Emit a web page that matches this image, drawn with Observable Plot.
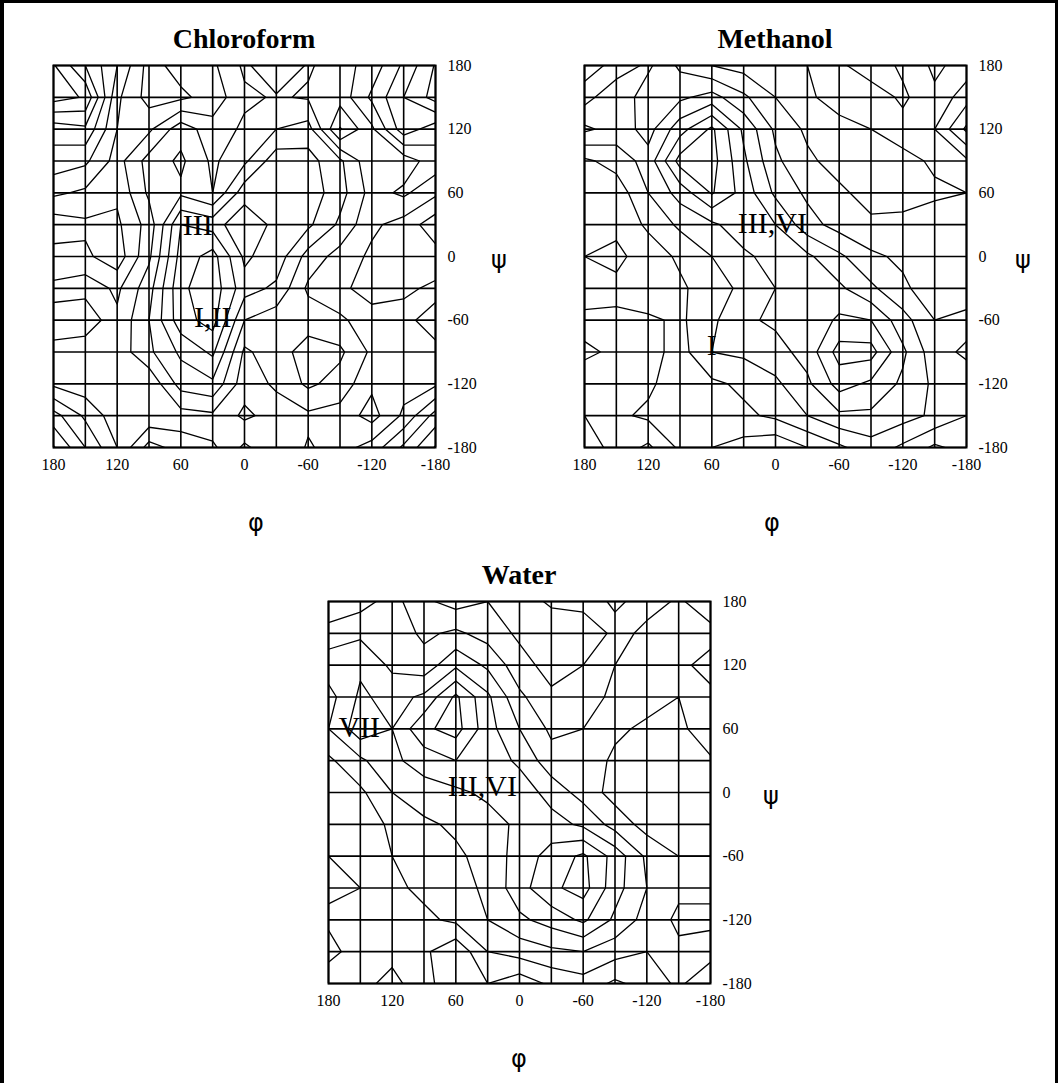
<!DOCTYPE html>
<html><head><meta charset="utf-8">
<script src="https://cdn.jsdelivr.net/npm/d3@7"></script>
<script src="https://cdn.jsdelivr.net/npm/@observablehq/plot@0.6"></script>
<style>
body{margin:0;background:#fff;}
#page{position:relative;width:1058px;height:1083px;overflow:hidden;background:#fff;font-family:"Liberation Serif","Times New Roman",serif;}
.panel{position:absolute;}
.title{position:absolute;font-weight:bold;font-size:28px;transform:translateX(-50%);white-space:nowrap;line-height:1;}
.axl{position:absolute;font-family:"DejaVu Sans",sans-serif;font-size:24px;transform:translate(-50%,-50%);line-height:1;}
.bord{position:absolute;background:#000;}
</style></head>
<body><div id="page"></div>
<script>
// ---- data ----
const phiTicks = [180, 120, 60, 0, -60, -120, -180];
const psiTicks = [180, 120, 60, 0, -60, -120, -180];
const gridAngles = [-180, -150, -120, -90, -60, -30, 0, 30, 60, 90, 120, 150, 180];
const chloroformLevels = [0.5, 1, 1.5, 2, 2.5, 3, 3.5];
const methanolLevels = [0.5, 1, 1.5, 2, 2.5, 3];
const waterLevels = [0.5, 1, 1.5, 2, 2.5, 3];

// relative energy grids: rows psi 180 -> -180 (top to bottom), columns phi 180 -> -180 (left to right)
const chloroformEnergy = [
  [0.45,1.5,2.5,3.7,3.3,3.1,2.4,2.9,2.45,2.7,2.3,1.4,0.45],
  [0.3,0.55,2.9,3.7,3.6,3.3,2.6,2.45,2.55,2.8,1.9,1.0,0.3],
  [1.8,1.6,3.0,3.1,2.2,2.8,2.4,2.0,1.8,3.55,2.6,1.2,1.8],
  [2.2,2.4,3.2,2.3,1.9,2.6,2.1,1.2,1.3,1.9,2.9,2.8,2.2],
  [2.9,3.1,3.4,2.4,2.1,2.5,1.2,1.1,1.2,1.8,2.7,2.4,2.9],
  [3.8,3.6,3.6,2.8,1.0,1.2,2.0,1.3,1.4,2.1,2.9,3.2,3.8],
  [3.3,3.4,3.8,2.6,0.8,0.3,1.6,1.2,2.2,2.7,3.1,3.4,3.3],
  [2.9,2.7,3.1,2.2,0.6,0.2,1.3,1.6,2.6,2.9,3.2,3.1,2.9],
  [2.0,2.1,2.9,2.0,0.7,0.3,2.0,2.3,2.2,2.4,2.8,2.8,2.0],
  [2.8,2.9,2.8,2.1,1.4,0.9,2.6,2.2,1.8,1.9,2.6,2.9,2.8],
  [2.6,2.8,2.7,2.9,1.8,1.6,2.8,2.4,1.9,2.2,2.9,2.7,2.6],
  [1.3,2.1,2.8,2.6,2.7,2.6,3.1,2.8,2.6,2.7,3.2,2.4,1.3],
  [0.45,1.5,2.5,3.7,3.3,3.1,2.4,2.9,2.45,2.7,2.3,1.4,0.45]
];
const methanolEnergy = [
  [2.8,2.3,1.9,2.6,3.0,3.2,3.4,3.0,2.6,2.2,2.6,3.1,2.8],
  [2.2,1.6,2.3,2.1,1.8,2.4,3.0,3.2,2.5,2.8,2.4,2.9,2.2],
  [1.4,1.7,2.2,1.2,0.4,1.6,2.6,3.1,3.4,3.0,2.7,2.5,1.4],
  [2.6,2.3,1.8,0.3,0.3,1.4,2.4,2.9,3.2,3.4,3.2,2.9,2.6],
  [3.0,2.8,2.0,1.3,0.45,1.2,2.1,2.6,2.9,3.2,3.3,3.1,3.0],
  [2.9,2.9,2.4,1.9,1.6,1.2,1.5,2.3,2.7,2.9,2.8,2.7,2.9],
  [3.0,3.1,2.8,2.4,2.0,1.6,1.3,1.4,1.9,2.4,2.6,2.7,3.0],
  [2.9,2.9,2.9,2.6,2.2,1.9,1.5,1.3,1.4,1.9,2.4,2.8,2.9],
  [2.3,2.2,2.4,2.6,2.1,1.6,1.4,1.4,0.9,1.0,1.8,2.5,2.3],
  [2.6,2.4,2.3,2.7,2.0,1.9,1.7,1.3,0.3,0.3,1.4,2.3,2.6],
  [2.2,2.1,2.4,2.8,2.6,2.4,2.1,1.6,0.8,1.1,1.6,2.1,2.2],
  [2.5,2.4,2.6,2.9,2.8,2.6,2.4,2.0,1.6,1.6,1.8,2.1,2.5],
  [2.8,2.3,1.9,2.6,3.0,3.2,3.4,3.0,2.6,2.2,2.6,3.1,2.8]
];
const waterEnergy = [
  [2.9,2.7,2.3,2.9,3.2,3.0,3.3,2.9,2.7,3.1,2.8,2.4,2.9],
  [2.3,2.1,2.2,2.6,2.4,2.7,3.1,3.4,3.6,2.8,2.3,2.1,2.3],
  [1.7,1.6,2.1,2.3,1.6,2.1,2.8,3.2,3.0,2.5,2.1,2.2,1.7],
  [2.2,1.4,1.7,1.4,0.4,1.4,2.4,2.9,2.7,2.4,2.3,2.5,2.2],
  [2.0,1.2,1.5,0.6,0.3,1.3,2.0,2.6,2.5,2.4,2.6,2.7,2.0],
  [2.6,2.1,1.6,1.3,1.0,1.2,1.6,2.3,2.2,2.6,2.8,2.9,2.6],
  [2.9,2.6,2.0,1.7,1.6,1.4,1.2,1.7,2.2,2.7,2.9,3.0,2.9],
  [2.7,2.8,2.4,2.1,1.9,1.7,1.4,1.3,1.6,2.2,2.7,2.8,2.7],
  [2.5,2.6,2.5,2.3,2.1,1.8,1.3,0.8,0.4,1.2,2.1,2.5,2.5],
  [2.4,2.5,2.6,2.4,2.2,1.9,1.2,0.6,0.3,1.3,2.0,2.4,2.4],
  [2.6,2.7,2.5,2.6,2.4,2.0,1.6,1.3,0.9,1.6,2.2,2.6,2.6],
  [2.3,2.8,2.7,2.9,3.4,2.5,2.3,2.1,2.0,2.3,2.5,2.4,2.3],
  [2.9,2.7,2.3,2.9,3.2,3.0,3.3,2.9,2.7,3.1,2.8,2.4,2.9]
];

// conformer labels [text, phi, psi]
const chloroformLabels = [["III", 44, 29], ["I,II", 30, -57]];
const methanolLabels = [["III,VI", 3, 31], ["I", 60, -84]];
const waterLabels = [["VII", 151, 61], ["III,VI", 35, 6]];

const titles = ["Chloroform", "Methanol", "Water"];

// ---- drawing ----
const page = document.getElementById("page");
const FW = 382, FH = 382; // frame size in px
const mL = 12, mT = 10, mR = 55, mB = 40;

function flatten(M) {
  // contour grid order: x from -180 upward, y from -180 upward
  const n = 13, out = new Array(n * n);
  for (let j = 0; j < n; j++) for (let i = 0; i < n; i++) out[j * n + i] = M[n - 1 - j][n - 1 - i];
  return out;
}

function panel(energy, levels, labels, title, fx, fy, psiDx, phiDx) {
  const chart = Plot.plot({
    width: FW + mL + mR, height: FH + mT + mB,
    marginLeft: mL, marginRight: mR, marginTop: mT, marginBottom: mB,
    style: {fontFamily: '"Liberation Serif", "Times New Roman", serif', fontSize: "16px", color: "#000", background: "transparent"},
    x: {domain: [180, -180]},
    y: {domain: [-180, 180]},
    marks: [
      Plot.contour(flatten(energy), {
        width: 13, height: 13, x1: -195, x2: 195, y1: -195, y2: 195,
        value: d => d, thresholds: levels,
        fill: "none", stroke: "#000", strokeWidth: 1.3, clip: true
      }),
      Plot.ruleX(gridAngles, {stroke: "#000", strokeWidth: 1.6}),
      Plot.ruleY(gridAngles, {stroke: "#000", strokeWidth: 1.6}),
      Plot.frame({stroke: "#000", strokeWidth: 2}),
      Plot.text(labels, {x: d => d[1], y: d => d[2], text: d => d[0], fontSize: 30, fill: "#000", textAnchor: "middle"}),
      Plot.axisY(psiTicks, {anchor: "right", tickSize: 0, tickPadding: 12, tickFormat: d => String(d), fontSize: 16}),
      Plot.axisX(phiTicks, {anchor: "bottom", tickSize: 0, tickPadding: 11, tickFormat: d => String(d), fontSize: 16})
    ]
  });
  chart.classList.add("panel");
  chart.style.left = (fx - mL) + "px";
  chart.style.top = (fy - mT) + "px";
  page.appendChild(chart);

  const t = document.createElement("div");
  t.className = "title"; t.textContent = title;
  t.style.left = (fx + FW / 2) + "px"; t.style.top = (fy - 40) + "px";
  page.appendChild(t);

  const ps = document.createElement("div");
  ps.className = "axl"; ps.textContent = "ψ";
  ps.style.left = (fx + FW + psiDx) + "px"; ps.style.top = (fy + FH / 2 + 4) + "px";
  page.appendChild(ps);

  const ph = document.createElement("div");
  ph.className = "axl"; ph.textContent = "φ";
  ph.style.left = (fx + FW / 2 + phiDx) + "px"; ph.style.top = (fy + FH + 76) + "px";
  page.appendChild(ph);
}

panel(chloroformEnergy, chloroformLevels, chloroformLabels, titles[0], 53, 65, 64, 12);
panel(methanolEnergy, methanolLevels, methanolLabels, titles[1], 584, 65, 57, -3);
panel(waterEnergy, waterLevels, waterLabels, titles[2], 328, 601, 61, 0);

// outer border
[[0, 0, 4, 1083], [0, 0, 1058, 3], [1055, 0, 3, 1083]].forEach(([x, y, w, h]) => {
  const b = document.createElement("div");
  b.className = "bord";
  b.style.left = x + "px"; b.style.top = y + "px"; b.style.width = w + "px"; b.style.height = h + "px";
  page.appendChild(b);
});
</script>
</body></html>
